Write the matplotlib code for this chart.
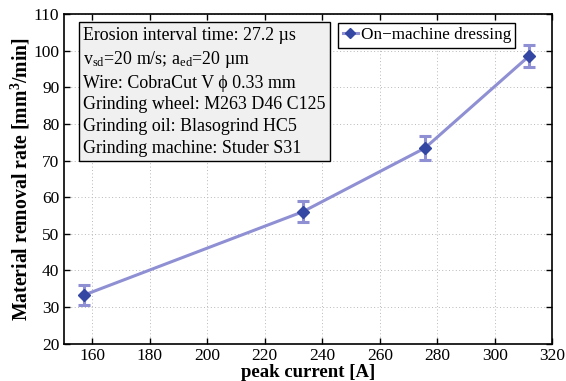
import matplotlib
matplotlib.use("Agg")
import matplotlib.pyplot as plt
from matplotlib.lines import Line2D

plt.rcParams['font.family'] = ['Liberation Serif', 'DejaVu Serif']
plt.rcParams['mathtext.fontset'] = 'custom'
plt.rcParams['mathtext.rm'] = 'Liberation Serif'
plt.rcParams['mathtext.it'] = 'Liberation Serif:italic'
plt.rcParams['mathtext.bf'] = 'Liberation Serif:bold'

peak_current = [157, 233.2, 275.7, 312]
removal_rate = [33.2, 56.0, 73.4, 98.6]
rate_error = [2.7, 2.8, 3.2, 3.0]
series_label = "On\u2212machine dressing"
x_ticks = [160, 180, 200, 220, 240, 260, 280, 300, 320]
y_ticks = [20, 30, 40, 50, 60, 70, 80, 90, 100, 110]
info_lines = [
    "Erosion interval time: 27.2 \u00b5s",
    "v$_{\\mathregular{sd}}$=20 m/s; a$_{\\mathregular{ed}}$=20 \u00b5m",
    "Wire: CobraCut V \u03d5 0.33 mm",
    "Grinding wheel: M263 D46 C125",
    "Grinding oil: Blasogrind HC5",
    "Grinding machine: Studer S31",
]

fig = plt.figure(figsize=(5.66, 3.81), dpi=100)
ax = fig.add_axes([0.1122, 0.0984, 0.8636, 0.8646])

line_col = '#8f8fd4'
marker_col = '#3347a3'
ax.errorbar(peak_current, removal_rate, yerr=rate_error, color=line_col,
            lw=2.2, ecolor=line_col, elinewidth=2.2, capsize=4, capthick=2.2,
            marker='D', markersize=6, markerfacecolor=marker_col,
            markeredgecolor=marker_col, zorder=3)

ax.set_xlim(150, 320)
ax.set_ylim(20, 110)
ax.set_xticks(x_ticks)
ax.set_yticks(y_ticks)
ax.tick_params(direction='in', top=True, right=True, labelsize=12.5, length=4, width=1,
               pad=3)
ax.grid(True, linestyle=(0, (1, 2.5)), color='#b8b8b8', linewidth=0.7)
for s in ax.spines.values():
    s.set_linewidth(1.2)

ax.set_xlabel("peak current [A]", fontsize=13.5, fontweight='bold', labelpad=0)
ax.set_ylabel("Material removal rate [mm$^{\\mathbf{3}}$/min]", fontsize=14.2,
              fontweight='bold', labelpad=1)

ax.text(156.8, 106.6, "\n".join(info_lines), fontsize=12.9, va='top', ha='left',
        linespacing=1.36,
        bbox=dict(boxstyle='square,pad=0.25', facecolor='#f0f0f0', edgecolor='black',
                  linewidth=1.0), zorder=5)

handle = Line2D([], [], color=line_col, lw=2.2, marker='D', markersize=5,
                markerfacecolor=marker_col, markeredgecolor=marker_col)
leg = ax.legend([handle], [series_label], loc='upper right',
                bbox_to_anchor=(0.924, 0.9727), fontsize=12.3,
                fancybox=False, edgecolor='black', framealpha=1,
                handlelength=0.9, handletextpad=0.15, borderpad=0.25,
                borderaxespad=0)
leg.get_frame().set_linewidth(1.0)

fig.savefig("out.png", dpi=100)
